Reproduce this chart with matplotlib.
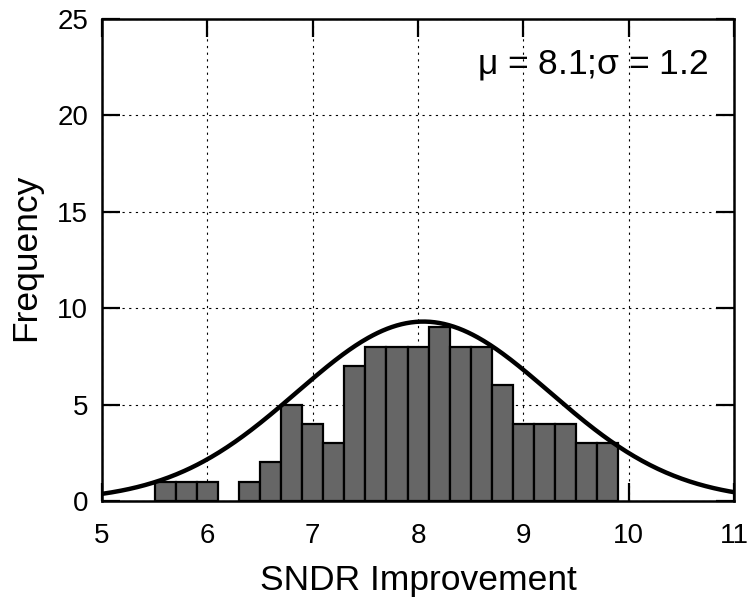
import numpy as np
import matplotlib.pyplot as plt

plt.rcParams['font.family'] = ['Liberation Sans', 'DejaVu Sans']

# histogram bins (left edges) and counts
bin_left = [5.5, 5.7, 5.9, 6.1, 6.3, 6.5, 6.7, 6.9, 7.1, 7.3, 7.5,
            7.7, 7.9, 8.1, 8.3, 8.5, 8.7, 8.9, 9.1, 9.3, 9.5, 9.7]
counts = [1, 1, 1, 0, 1, 2, 5, 4, 3, 7, 8,
          8, 8, 9, 8, 8, 6, 4, 4, 4, 3, 3]
bin_width = 0.2

# fitted normal curve
fit_mu = 8.05
fit_sigma = 1.2
fit_peak = 9.3

fig = plt.figure(figsize=(7.56, 6.05), dpi=100)
ax = fig.add_axes([0.135, 0.172, 0.836, 0.797])

ax.grid(True, color='black', linestyle=(0, (2, 4)), linewidth=0.8)
ax.set_axisbelow(True)

for left, c in zip(bin_left, counts):
    if c > 0:
        ax.bar(left, c, width=bin_width, align='edge', color='#666666',
               edgecolor='black', linewidth=1.6, zorder=2)

xs = np.linspace(5, 11, 400)
ax.plot(xs, fit_peak * np.exp(-(xs - fit_mu) ** 2 / (2 * fit_sigma ** 2)),
        color='black', linewidth=3.2, zorder=3)

ax.set_xlim(5, 11)
ax.set_ylim(0, 25)
ax.set_xticks(range(5, 12))
ax.set_yticks(range(0, 26, 5))
ax.tick_params(direction='in', length=13, width=1.6, labelsize=20,
               top=True, right=True)
ax.tick_params(axis='x', pad=16)
ax.tick_params(axis='y', pad=10)
for s in ax.spines.values():
    s.set_linewidth(1.8)

ax.set_xlabel('SNDR Improvement', fontsize=25.5, labelpad=11)
ax.set_ylabel('Frequency', fontsize=25.5)
ax.yaxis.set_label_coords(-0.095, 0.506)

ax.text(0.959, 0.905, r'$\mathregular{\mu}$ = 8.1;$\mathregular{\sigma}$ = 1.2',
        transform=ax.transAxes, ha='right', va='center', fontsize=25.5)

fig.savefig('out.png', dpi=100)
